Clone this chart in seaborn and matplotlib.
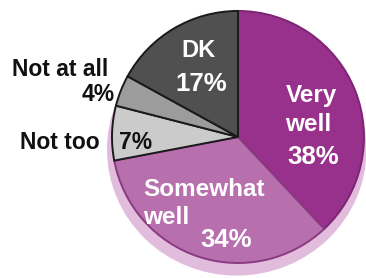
import matplotlib
matplotlib.use("Agg")
import matplotlib.pyplot as plt
import seaborn as sns
from matplotlib.patches import Ellipse

# Data
labels = ["Very well", "Somewhat well", "Not too", "Not at all", "DK"]
values = [38, 34, 7, 4, 17]
colors = ["#98318c", "#b86fae", "#cbcbcb", "#9c9c9c", "#505050"]
edges = ["#7d2574", "#8a3a80", "#1a1a1a", "#1a1a1a", "#1a1a1a"]

sns.set_theme(style="white")
plt.rcParams['font.family'] = ['Liberation Sans', 'DejaVu Sans']

fig = plt.figure(figsize=(3.66, 2.78), dpi=100)
ax = fig.add_axes([0, 0, 1, 1])

# 3D-ish disk underneath the pie
ax.add_patch(Ellipse((-0.01, -0.10), 2.06, 2.0, facecolor="#e2bcdc",
                     edgecolor="none", zorder=0))

wedges, _ = ax.pie(values, colors=colors, startangle=90, counterclock=False,
                   radius=1.0, wedgeprops=dict(linewidth=1.4))
for w, ec in zip(wedges, edges):
    w.set_edgecolor(ec)
    w.set_zorder(1)
# dark outline around the gray part
for w in wedges[2:]:
    w.set_zorder(2)

ax.set_xlim(-1.889, 1.016)
ax.set_ylim(-1.119, 1.087)
ax.set_aspect("auto")
ax.axis("off")

white = dict(color="white", fontweight="bold", va="center")
black = dict(color="#111111", fontweight="bold", va="center")

ax.text(0.58, 0.33, "Very", ha="center", fontsize=17.5, **white)
ax.text(0.56, 0.10, "well", ha="center", fontsize=17.5, **white)
ax.text(0.60, -0.16, "38%", ha="center", fontsize=18.5, **white)

ax.text(-0.754, -0.42, "Somewhat", ha="left", fontsize=17.5, **white)
ax.text(-0.754, -0.635, "well", ha="left", fontsize=17.5, **white)
ax.text(-0.095, -0.82, "34%", ha="center", fontsize=18.5, **white)

ax.text(-0.31, 0.69, "DK", ha="center", fontsize=17, **white)
ax.text(-0.29, 0.42, "17%", ha="center", fontsize=18.5, **white)

ax.text(-1.032, 0.535, "Not at all", ha="right", fontsize=16.5, **black)
ax.text(-0.98, 0.335, "4%", ha="right", fontsize=16.5, **black)
ax.text(-1.10, -0.045, "Not too", ha="right", fontsize=16.5, **black)
ax.text(-0.81, -0.045, "7%", ha="center", fontsize=16.5, **black)

plt.savefig("out.png", dpi=100)
